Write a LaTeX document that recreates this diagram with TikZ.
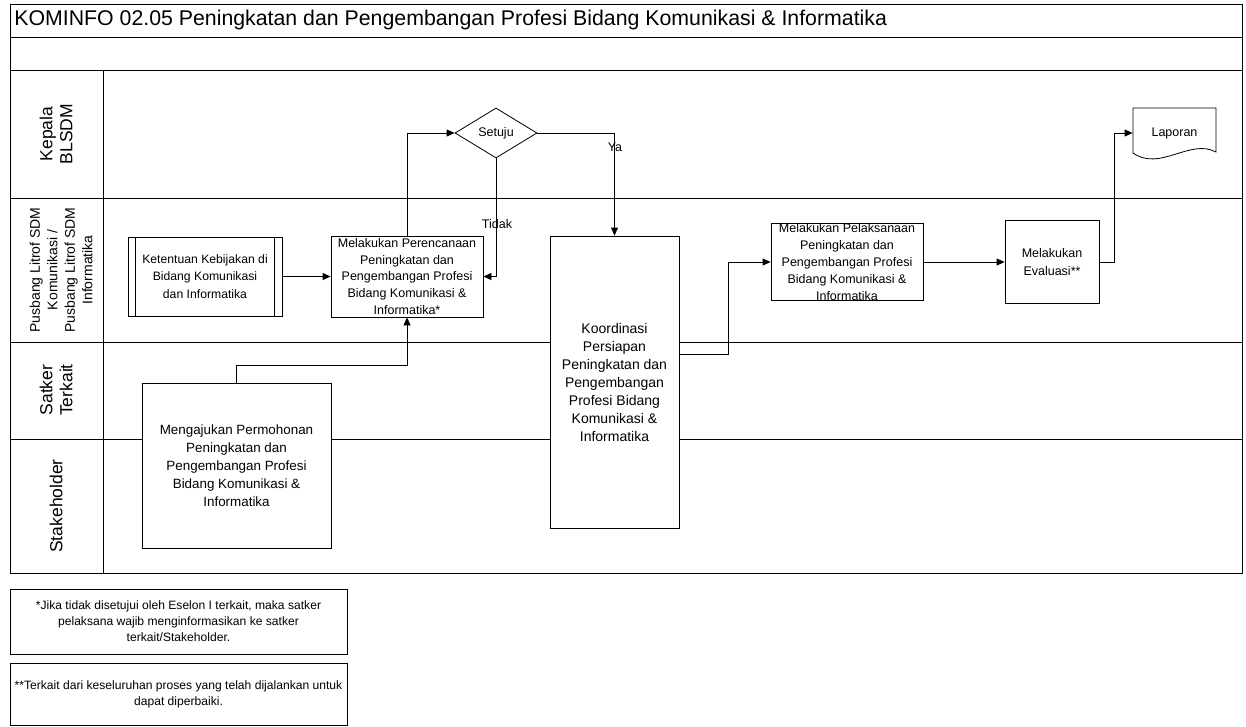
\documentclass[tikz,border=0pt]{standalone}
\usepackage{fontspec}
\setmainfont{Liberation Sans}
\usetikzlibrary{shapes.geometric}
\usetikzlibrary{arrows.meta}

\begin{document}
\begin{tikzpicture}[x=1pt,y=-1pt,line width=0.8pt,
  proc/.style={draw,fill=white,rectangle,inner sep=0pt,align=center,font=\fontsize{13.4}{18}\selectfont},
  smallproc/.style={proc,font=\fontsize{12.5}{16.8}\selectfont},
  setujubox/.style={draw,fill=white,diamond,inner sep=0pt,minimum width=82pt,minimum height=50pt,font=\fontsize{12.5}{15}\selectfont},
  arr/.style={-{Triangle[length=8pt,width=7pt]}},
  lanelabel/.style={rotate=90,align=center,font=\fontsize{17.5}{20}\selectfont},
  notebox/.style={draw,inner sep=0pt,align=center,font=\fontsize{12.1}{16}\selectfont},
  lbl/.style={inner sep=0pt,font=\fontsize{12.5}{15}\selectfont}]
\useasboundingbox (0,0) rectangle (1246,726);

% frame and lanes
\draw (10,4) rectangle (1242,573);
\draw (10,37) -- (1242,37);
\draw (10,70) -- (1242,70);
\draw (10,198) -- (1242,198);
\draw (10,342) -- (1242,342);
\draw (10,439) -- (1242,439);
\draw (103,70) -- (103,573);

\node[anchor=west,inner sep=0pt,font=\fontsize{21.3}{24}\selectfont] (title) at (14,20) {KOMINFO 02.05 Peningkatan dan Pengembangan Profesi Bidang Komunikasi \& Informatika};

% lane names
\node[lanelabel] (kepala) at (56,134) {Kepala\\BLSDM};
\node[lanelabel,font=\fontsize{14}{17.5}\selectfont] (pusbang) at (61,270) {Pusbang Litrof SDM\\Komunikasi /\\Pusbang Litrof SDM\\Informatika};
\node[lanelabel] (satker) at (56,390) {Satker\\Terkait};
\node[lanelabel] (stakeholder) at (56,506) {Stakeholder};

% steps
\node[proc,font=\fontsize{12.2}{17.5}\selectfont,minimum width=154pt,minimum height=79pt] (ketentuan) at (205,276.5) {Ketentuan Kebijakan di\\Bidang Komunikasi\\dan Informatika};
\draw ([xshift=8pt]ketentuan.north west) -- ([xshift=8pt]ketentuan.south west);
\draw ([xshift=-8pt]ketentuan.north east) -- ([xshift=-8pt]ketentuan.south east);

\node[smallproc,minimum width=152pt,minimum height=81pt] (perencanaan) at (407,276.5) {Melakukan Perencanaan\\Peningkatan dan\\Pengembangan Profesi\\Bidang Komunikasi \&\\Informatika*};

\node[setujubox] (setuju) at (496,133) {Setuju};

\node[proc,font=\fontsize{14}{18}\selectfont,minimum width=129pt,minimum height=292pt] (koordinasi) at (614.5,382) {Koordinasi\\Persiapan\\Peningkatan dan\\Pengembangan\\Profesi Bidang\\Komunikasi \&\\Informatika};

\node[proc,minimum width=189pt,minimum height=165pt] (mengajukan) at (236.5,465.5) {Mengajukan Permohonan\\Peningkatan dan\\Pengembangan Profesi\\Bidang Komunikasi \&\\Informatika};

\node[smallproc,minimum width=152pt,minimum height=75pt] (pelaksanaan) at (847,262) {Melakukan Pelaksanaan\\Peningkatan dan\\Pengembangan Profesi\\Bidang Komunikasi \&\\Informatika};

\node[proc,font=\fontsize{12.5}{18}\selectfont,minimum width=94pt,minimum height=83pt] (evaluasi) at (1052,262) {Melakukan\\Evaluasi**};

% document shape
\draw[fill=white] (1133,153) -- (1133,108) -- (1216,108) -- (1216,152) .. controls (1190,138) and (1160,172) .. (1133,153) -- cycle;
\node[lbl,minimum width=83pt,minimum height=46pt] (laporan) at (1174.5,133) {Laporan};

% flow
\coordinate (kline) at (0,354);
\draw[arr] (ketentuan) -- (perencanaan);
\draw[arr] (perencanaan.north) |- (setuju.west);
\draw[arr] (setuju.east) -| (koordinasi.north);
\draw[arr] (setuju.south) |- (perencanaan.east);
\draw[arr] (mengajukan.north) -- ++(0,-17) -| (perencanaan.south);
\draw[arr] (koordinasi.east |- kline) -- ++(49,0) |- (pelaksanaan.west);
\draw[arr] (pelaksanaan) -- (evaluasi);
\draw[arr] (evaluasi.east) -- ++(15,0) |- (laporan.west);

\node[lbl] (ya) at (615,147) {Ya};
\node[lbl] (tidak) at (497,224) {Tidak};

% notes
\node[notebox,minimum width=337pt,minimum height=65pt] (note1) at (178.5,621.5) {*Jika tidak disetujui oleh Eselon I terkait, maka satker\\pelaksana wajib menginformasikan ke satker\\terkait/Stakeholder.};
\node[notebox,minimum width=337pt,minimum height=62pt] (note2) at (178.5,694) {**Terkait dari keseluruhan proses yang telah dijalankan untuk\\dapat diperbaiki.};
\end{tikzpicture}
\end{document}
